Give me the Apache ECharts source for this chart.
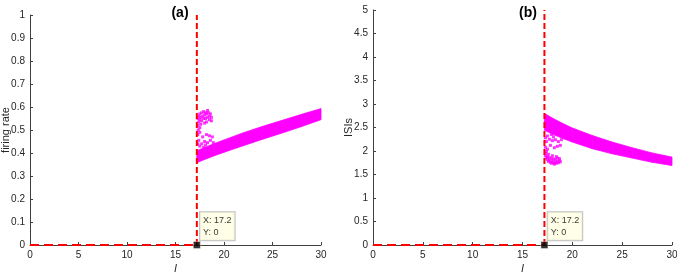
<!DOCTYPE html>
<html>
<head>
<meta charset="utf-8">
<script src="https://cdn.jsdelivr.net/npm/echarts@6/dist/echarts.min.js"></script>
<style>
html,body{margin:0;padding:0;background:#fff;}
#chart{width:677px;height:276px;}
</style>
</head>
<body>
<div id="chart"></div>
<script>
// ---- data ----
const xTicks = [0, 5, 10, 15, 20, 25, 30];
const rateTicks = [0, 0.1, 0.2, 0.3, 0.4, 0.5, 0.6, 0.7, 0.8, 0.9, 1];
const isiTicks = [0, 0.5, 1, 1.5, 2, 2.5, 3, 3.5, 4, 4.5, 5];

const thresholdI = 17.2;
const tipValue = [17.2, 0];

// dense band (edges of the scatter band)
const bandI    = [17.2, 18, 19, 20, 22, 24, 26, 28, 30];
const rateLow  = [0.358, 0.372, 0.388, 0.403, 0.432, 0.460, 0.487, 0.515, 0.545];
const rateHigh = [0.410, 0.424, 0.441, 0.457, 0.488, 0.516, 0.542, 0.568, 0.593];
const isiLow   = [2.44, 2.36, 2.27, 2.19, 2.05, 1.94, 1.85, 1.76, 1.69];
const isiHigh  = [2.80, 2.70, 2.59, 2.49, 2.33, 2.19, 2.07, 1.96, 1.87];

// scattered points near threshold
const rateScatter = [
  [17.3,0.55],[17.4,0.56],[17.5,0.57],[17.6,0.555],[17.7,0.575],[17.8,0.56],[17.9,0.58],[18.0,0.565],
  [18.1,0.575],[18.2,0.57],[18.3,0.585],[18.4,0.575],[18.5,0.56],[18.6,0.57],[18.7,0.555],[17.4,0.535],
  [17.5,0.545],[17.7,0.54],[17.9,0.55],[18.1,0.55],[18.3,0.555],[18.5,0.545],[18.7,0.54],[18.2,0.535],
  [17.3,0.52],[17.6,0.525],[18.0,0.53],[17.35,0.5],[17.5,0.51],
  [17.3,0.48],[17.5,0.49],[17.8,0.47],[18.2,0.48],[18.5,0.475],[18.8,0.47],[17.4,0.455],[17.7,0.44],
  [18.0,0.45],[18.3,0.445],[18.6,0.455],[17.5,0.43],[17.9,0.425],[18.1,0.435],[18.9,0.445],[17.3,0.44]
];
const isiScatter = [
  [17.3,1.9],[17.4,1.85],[17.5,1.82],[17.6,1.78],[17.7,1.8],[17.8,1.76],[17.9,1.74],[18.0,1.78],
  [18.1,1.75],[18.2,1.72],[18.3,1.76],[18.4,1.74],[18.5,1.78],[18.6,1.75],[18.7,1.8],[18.8,1.77],
  [17.5,1.88],[17.7,1.86],[17.9,1.84],[18.1,1.83],[18.3,1.82],[18.5,1.85],[17.3,1.95],[17.6,1.93],
  [18.0,1.9],[18.4,1.88],[18.7,1.84],[17.4,1.99],
  [17.3,2.08],[17.5,2.04],[17.8,2.12],[18.2,2.07],[18.5,2.1],[18.8,2.12],[17.4,2.2],[17.7,2.25],
  [18.0,2.22],[18.3,2.24],[18.6,2.2],[17.5,2.32],[17.9,2.35],[18.1,2.3],[18.9,2.24],[17.3,2.28]
];

// ---- build ----
const FONT = 'Liberation Sans, Arial, sans-serif';
const MAG = '#ff00ff';
const AX = '#404040';
const TXT = '#262626';

function xAxisCfg(gi) {
  return {
    type: 'value', gridIndex: gi, min: xTicks[0], max: xTicks[xTicks.length - 1], interval: 5,
    name: 'I', nameLocation: 'middle', nameGap: 18, nameMoveOverlap: false,
    nameTextStyle: { fontFamily: FONT, fontSize: 11, fontStyle: 'italic', color: TXT },
    axisLine: { show: true, onZero: false, lineStyle: { color: AX, width: 1 } },
    axisTick: { show: true, inside: true, length: 3, lineStyle: { color: AX } },
    axisLabel: { fontFamily: FONT, fontSize: 10, color: TXT, margin: 5 },
    splitLine: { show: false }
  };
}
function yAxisCfg(gi, ticks, name, gap) {
  return {
    type: 'value', gridIndex: gi, min: ticks[0], max: ticks[ticks.length - 1],
    interval: ticks[1] - ticks[0],
    name: name, nameLocation: 'middle', nameGap: gap, nameRotate: 90, nameMoveOverlap: false,
    nameTextStyle: { fontFamily: FONT, fontSize: 11, color: TXT },
    axisLine: { show: true, onZero: false, lineStyle: { color: AX, width: 1 } },
    axisTick: { show: true, inside: true, length: 3, lineStyle: { color: AX } },
    axisLabel: { fontFamily: FONT, fontSize: 10, color: TXT, margin: 5 },
    splitLine: { show: false }
  };
}

// band drawn as quads between consecutive edge samples
function bandSeries(gi, low, high) {
  const segs = [];
  for (let i = 0; i < bandI.length - 1; i++) {
    segs.push([bandI[i], low[i], high[i], bandI[i + 1], low[i + 1], high[i + 1]]);
  }
  return {
    type: 'custom', xAxisIndex: gi, yAxisIndex: gi, silent: true, z: 2,
    data: segs,
    encode: { x: [0, 3], y: [1, 2, 4, 5] },
    renderItem: function (params, api) {
      const a = api.coord([api.value(0), api.value(1)]);
      const b = api.coord([api.value(0), api.value(2)]);
      const c = api.coord([api.value(3), api.value(5)]);
      const d = api.coord([api.value(3), api.value(4)]);
      return {
        type: 'polygon',
        shape: { points: [a, b, c, d] },
        style: { fill: MAG, stroke: MAG, lineWidth: 0.8 }
      };
    }
  };
}
function scatterSeries(gi, pts) {
  return {
    type: 'scatter', xAxisIndex: gi, yAxisIndex: gi, data: pts, symbol: 'rect', symbolSize: 3,
    itemStyle: { color: MAG }, silent: true, z: 3
  };
}
function refLines(gi, ymax) {
  return [
    {
      type: 'line', xAxisIndex: gi, yAxisIndex: gi, symbol: 'none', silent: true,
      data: [[xTicks[0], 0], [thresholdI, 0]],
      lineStyle: { color: '#ff0000', width: 2, type: [9, 5] }, z: 5
    },
    {
      type: 'line', xAxisIndex: gi, yAxisIndex: gi, symbol: 'none', silent: true,
      data: [[thresholdI, 0], [thresholdI, ymax]],
      lineStyle: { color: '#ff0000', width: 2, type: [6, 3] }, z: 5
    }
  ];
}
function dataTip(gi) {
  return {
    type: 'scatter', xAxisIndex: gi, yAxisIndex: gi, data: [tipValue], symbol: 'rect', symbolSize: 7,
    itemStyle: { color: '#000', borderColor: '#ffffe1', borderWidth: 0.5 }, z: 10, silent: true,
    label: {
      show: true, position: [7, -29],
      formatter: p => 'X: ' + p.value[0] + '\nY: ' + p.value[1],
      fontFamily: FONT, fontSize: 9, lineHeight: 12, color: '#000',
      backgroundColor: '#ffffe1', borderColor: '#b0b0b0', borderWidth: 1,
      padding: [2, 3, 2, 3], align: 'left', verticalAlign: 'top'
    }
  };
}

const option = {
  animation: false,
  backgroundColor: '#ffffff',
  title: [
    { text: '(a)', left: 175, top: 1, textAlign: 'center',
      textStyle: { fontFamily: FONT, fontSize: 14, fontWeight: 'bold', color: '#000' } },
    { text: '(b)', left: 523, top: 1, textAlign: 'center',
      textStyle: { fontFamily: FONT, fontSize: 14, fontWeight: 'bold', color: '#000' } }
  ],
  grid: [
    { left: 30, top: 15, width: 291, height: 230, containLabel: false, outerBoundsMode: 'none' },
    { left: 373, top: 10, width: 299, height: 235, containLabel: false, outerBoundsMode: 'none' }
  ],
  xAxis: [xAxisCfg(0), xAxisCfg(1)],
  yAxis: [yAxisCfg(0, rateTicks, 'firing rate', 19), yAxisCfg(1, isiTicks, 'ISIs', 19)],
  series: [
    bandSeries(0, rateLow, rateHigh),
    scatterSeries(0, rateScatter),
    ...refLines(0, rateTicks[rateTicks.length - 1]),
    dataTip(0),
    bandSeries(1, isiLow, isiHigh),
    scatterSeries(1, isiScatter),
    ...refLines(1, isiTicks[isiTicks.length - 1]),
    dataTip(1)
  ]
};

const chart = echarts.init(document.getElementById('chart'), null, { renderer: 'canvas' });
chart.setOption(option);
</script>
</body>
</html>
